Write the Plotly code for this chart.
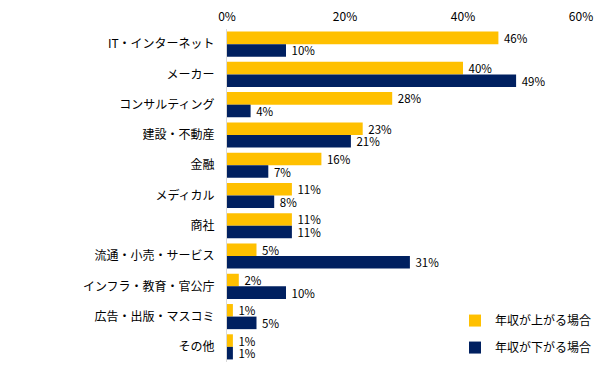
import plotly.graph_objects as go

categories = ["IT・インターネット", "メーカー", "コンサルティング", "建設・不動産", "金融", "メディカル",
              "商社", "流通・小売・サービス", "インフラ・教育・官公庁", "広告・出版・マスコミ", "その他"]
up_values = [46, 40, 28, 23, 16, 11, 11, 5, 2, 1, 1]
down_values = [10, 49, 4, 21, 7, 8, 11, 31, 10, 5, 1]
series_names = ["年収が上がる場合", "年収が下がる場合"]
tick_vals = [0, 20, 40, 60]
tick_text = ["0%", "20%", "40%", "60%"]

font_family = "Noto Sans CJK JP, Noto Sans, sans-serif"

fig = go.Figure()
for name, vals, color, grp in [(series_names[0], up_values, "#FFC000", "a"),
                               (series_names[1], down_values, "#002060", "b")]:
    fig.add_trace(go.Bar(
        y=categories, x=vals, orientation="h", name=name,
        marker=dict(color=color, line=dict(width=0)),
        text=[f" {v}%" for v in vals], textposition="outside", constraintext="none",
        textfont=dict(size=11.5, color="#000000", family=font_family),
        cliponaxis=False, legendgroup=grp,
    ))

fig.update_layout(
    width=603, height=368,
    margin=dict(l=219, r=30, t=21, b=14, autoexpand=False),
    paper_bgcolor="white", plot_bgcolor="white",
    barmode="group", bargap=0.17, bargroupgap=0,
    font=dict(family=font_family, size=12, color="#000000"),
    showlegend=True,
    legend=dict(x=0.644, y=0.168, xanchor="left", yanchor="top",
                font=dict(size=12), tracegroupgap=8, traceorder="grouped",
                bgcolor="rgba(0,0,0,0)", itemwidth=30),
    xaxis=dict(range=[0, 60], side="top", tickvals=tick_vals, ticktext=tick_text,
               showgrid=False, zeroline=False, showline=False, ticks="",
               tickfont=dict(size=12), automargin=False, ticklabelstandoff=5),
    yaxis=dict(autorange="reversed", showgrid=False, showline=True,
               linecolor="#D9D9D9", linewidth=1, ticks="", ticklabelstandoff=9,
               tickfont=dict(size=12), automargin=False),
)

fig.write_html("out.html")
